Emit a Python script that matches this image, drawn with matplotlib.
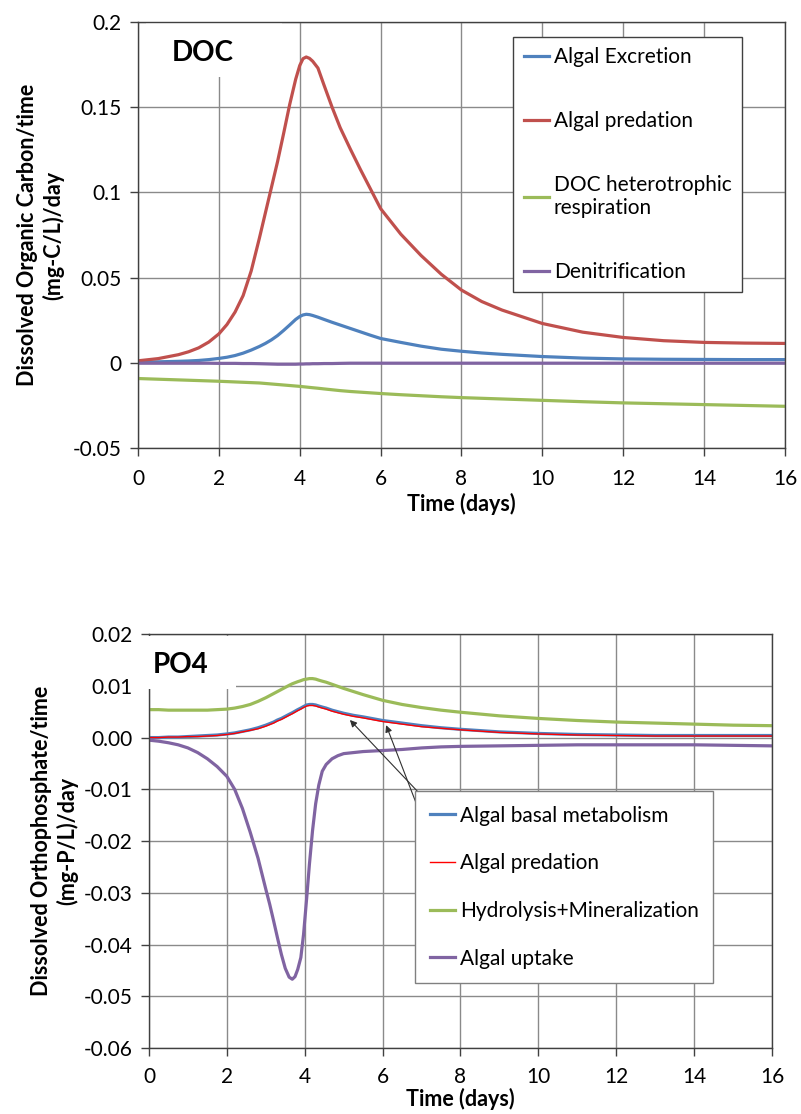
import matplotlib
matplotlib.use('Agg')
import matplotlib.pyplot as plt
from matplotlib.patches import Rectangle
from matplotlib.ticker import MultipleLocator, FuncFormatter

plt.rcParams['font.family'] = ['Lato', 'DejaVu Sans']

# ---- DOC panel data ----
t_doc = [0, 0.5, 1, 1.25, 1.5, 1.75,
         2, 2.2, 2.4, 2.6, 2.8,
         3.0, 3.15, 3.3, 3.45, 3.6, 3.75, 3.9,
         4.0, 4.08, 4.16, 4.24, 4.32, 4.45, 4.6, 4.8,
         5.0, 5.25, 5.5, 5.75,
         6, 6.5, 7, 7.5,
         8, 8.5, 9,
         10, 11, 12, 13, 14, 15, 16]
doc_excretion = [0.0005, 0.0006, 0.0009, 0.0011, 0.0014, 0.0019,
                 0.0026, 0.0033, 0.0043, 0.0057, 0.0075,
                 0.0096, 0.0114, 0.0135, 0.0160, 0.0190, 0.0222, 0.0255,
                 0.0272, 0.0281, 0.0285, 0.0283, 0.0278, 0.0268, 0.0255, 0.0238,
                 0.0222, 0.0202, 0.0182, 0.0162,
                 0.0143, 0.0120, 0.0098, 0.0080,
                 0.0068, 0.0058, 0.0050,
                 0.0037, 0.0028, 0.0023, 0.0021, 0.0020, 0.0019, 0.0019]
doc_predation = [0.0012, 0.0025, 0.0048, 0.0065, 0.0088, 0.0122,
                 0.0170, 0.0225, 0.0298, 0.0395, 0.0540,
                 0.0730, 0.0880, 0.1030, 0.1180, 0.1345, 0.1515, 0.1665,
                 0.1745, 0.1785, 0.1795, 0.1787, 0.1770, 0.1730, 0.1630, 0.1500,
                 0.1380, 0.1255, 0.1135, 0.1020,
                 0.0905, 0.0755, 0.0630, 0.0520,
                 0.0427, 0.0360, 0.0310,
                 0.0231, 0.0180, 0.0149, 0.0130, 0.0120, 0.0116, 0.0114]
doc_respiration = [-0.0092, -0.0096, -0.0100, -0.0102, -0.0104, -0.0106,
                   -0.0108, -0.0110, -0.0112, -0.0114, -0.0116,
                   -0.0118, -0.0121, -0.0124, -0.0127, -0.0130, -0.0133, -0.0136,
                   -0.0138, -0.0140, -0.0142, -0.0144, -0.0146, -0.0149, -0.0153, -0.0158,
                   -0.0163, -0.0168, -0.0172, -0.0176,
                   -0.0180, -0.0187, -0.0193, -0.0199,
                   -0.0204, -0.0208, -0.0212,
                   -0.0220, -0.0228, -0.0235, -0.0240, -0.0245, -0.0250, -0.0255]
doc_denitrification = [-0.0002, -0.0002, -0.0002, -0.0002, -0.0002, -0.0002,
                       -0.0003, -0.0003, -0.0003, -0.0004, -0.0004,
                       -0.0005, -0.0006, -0.0007, -0.0008, -0.0008, -0.0008, -0.0008,
                       -0.0007, -0.0007, -0.0006, -0.0006, -0.0005, -0.0005, -0.0004, -0.0004,
                       -0.0003, -0.0002, -0.0002, -0.0002,
                       -0.0002, -0.0002, -0.0002, -0.0002,
                       -0.0002, -0.0002, -0.0002,
                       -0.0002, -0.0002, -0.0002, -0.0002, -0.0002, -0.0002, -0.0002]

# ---- PO4 panel data ----
t_po4 = [0, 0.25, 0.5, 0.75, 1, 1.25, 1.5, 1.75,
         2, 2.2, 2.4, 2.6, 2.8,
         3.0, 3.1, 3.2, 3.3, 3.4, 3.5, 3.6, 3.68, 3.75, 3.82, 3.9, 3.97,
         4.05, 4.12, 4.2, 4.28, 4.36, 4.45, 4.55, 4.7, 4.85,
         5.0, 5.25, 5.5,
         6, 6.5, 7, 7.5,
         8, 9, 10, 11, 12, 13, 14, 15, 16]
po4_basal = [0.0000, 0.0000, 0.0001, 0.0001, 0.0002, 0.0003, 0.0004, 0.0005,
             0.0007, 0.0009, 0.0012, 0.0015, 0.0019,
             0.0024, 0.0027, 0.0030, 0.0034, 0.0037, 0.0041, 0.0045, 0.0048, 0.0051, 0.0054,
             0.0057, 0.0060,
             0.0063, 0.0064, 0.0064, 0.0063, 0.0061, 0.0059, 0.0057, 0.0053, 0.0050,
             0.0047, 0.0043, 0.0040,
             0.0033, 0.0028, 0.0023, 0.0019,
             0.0016, 0.0011, 0.0008, 0.0006, 0.0005, 0.0004, 0.0004, 0.0004, 0.0004]
po4_predation = [0.0000, 0.0000, 0.0001, 0.0001, 0.0002, 0.0002, 0.0003, 0.0004,
                 0.0006, 0.0008, 0.0011, 0.0014, 0.0017,
                 0.0022, 0.0025, 0.0028, 0.0032, 0.0035, 0.0039, 0.0043, 0.0046, 0.0049,
                 0.0052, 0.0055, 0.0058,
                 0.0061, 0.0062, 0.0062, 0.0061, 0.0059, 0.0057, 0.0055, 0.0051, 0.0048,
                 0.0045, 0.0041, 0.0038,
                 0.0031, 0.0026, 0.0021, 0.0018,
                 0.0015, 0.0010, 0.0007, 0.0005, 0.0004, 0.0003, 0.0003, 0.0003, 0.0003]
po4_hydrolysis = [0.0054, 0.0054, 0.0053, 0.0053, 0.0053, 0.0053, 0.0053, 0.0054,
                  0.0055, 0.0057, 0.0060, 0.0064, 0.0070,
                  0.0077, 0.0081, 0.0085, 0.0089, 0.0093, 0.0097, 0.0101, 0.0104, 0.0106,
                  0.0108, 0.0110, 0.0112,
                  0.0113, 0.0114, 0.0114, 0.0113, 0.0111, 0.0109, 0.0107, 0.0103, 0.0099,
                  0.0095, 0.0089, 0.0083,
                  0.0072, 0.0064, 0.0058, 0.0053,
                  0.0049, 0.0042, 0.0037, 0.0033, 0.0030, 0.0028, 0.0026, 0.0024, 0.0023]
po4_uptake = [-0.0005, -0.0007, -0.0010, -0.0014, -0.0020, -0.0029, -0.0041, -0.0056,
              -0.0075, -0.0100, -0.0137, -0.0183, -0.0233,
              -0.0293, -0.0322, -0.0354, -0.0387, -0.0419, -0.0446, -0.0463, -0.0467,
              -0.0462, -0.0448, -0.0425, -0.0380,
              -0.0310, -0.0245, -0.0180, -0.0128, -0.0092, -0.0065, -0.0052, -0.0041,
              -0.0035,
              -0.0031, -0.0029, -0.0027,
              -0.0025, -0.0023, -0.0020, -0.0018,
              -0.0017, -0.0016, -0.0015, -0.0014, -0.0014, -0.0014, -0.0014, -0.0015,
              -0.0016]

BLUE, RED, GREEN, PURPLE = '#4F81BD', '#C0504D', '#9BBB59', '#8064A2'

fig = plt.figure(figsize=(8.01, 11.14), dpi=100)
ax1 = fig.add_axes([0.1723, 0.5978, 0.8077, 0.3824])
ax2 = fig.add_axes([0.186, 0.0592, 0.7778, 0.3716])


def style(ax, xpad=9, labelpad=3):
    ax.set_xlim(0, 16)
    ax.xaxis.set_major_locator(MultipleLocator(2))
    ax.grid(True, color='#8a8a8a', linewidth=1)
    ax.tick_params(direction='out', length=6, width=1, color='#404040',
                   labelsize=15, top=False, right=False)
    ax.tick_params(axis='x', pad=xpad)
    ax.tick_params(axis='y', pad=6)
    for s in ax.spines.values():
        s.set_color('#404040')
        s.set_linewidth(1)
    ax.set_xlabel('Time (days)', fontsize=15.5, fontweight='bold', labelpad=labelpad)


# top: DOC
ax1.plot(t_doc, doc_excretion, color=BLUE, lw=2.3, label='Algal Excretion')
ax1.plot(t_doc, doc_predation, color=RED, lw=2.3, label='Algal predation')
ax1.plot(t_doc, doc_respiration, color=GREEN, lw=2.3, label='DOC heterotrophic\nrespiration')
ax1.plot(t_doc, doc_denitrification, color=PURPLE, lw=2.3, label='Denitrification')
style(ax1)
ax1.set_ylim(-0.05, 0.2)
ax1.yaxis.set_major_locator(MultipleLocator(0.05))
ax1.yaxis.set_major_formatter(FuncFormatter(lambda v, _: f'{round(v, 2) + 0:g}'))
ax1.set_ylabel('Dissolved Organic Carbon/time\n(mg-C/L)/day', fontsize=15.5,
               fontweight='bold', labelpad=6)
ax1.add_patch(Rectangle((0.012, 0.871), 0.21, 0.127, transform=ax1.transAxes,
                        facecolor='white', edgecolor='none', zorder=1.8))
ax1.text(0.1005, 0.927, 'DOC', transform=ax1.transAxes, fontsize=20, fontweight='bold',
         ha='center', va='center', zorder=3)
leg1 = ax1.legend(loc='upper left', bbox_to_anchor=(0.58, 0.965), borderaxespad=0,
                  fontsize=15, handlelength=1.2, handletextpad=0.25, labelspacing=2.1,
                  borderpad=0.5, fancybox=False, framealpha=1, edgecolor='#404040')
leg1.get_frame().set_linewidth(1)

# bottom: PO4
ax2.plot(t_po4, po4_basal, color=BLUE, lw=2.3, label='Algal basal metabolism')
ax2.plot(t_po4, po4_predation, color='#FF0000', lw=1.0, label='Algal predation')
ax2.plot(t_po4, po4_hydrolysis, color=GREEN, lw=2.3, label='Hydrolysis+Mineralization')
ax2.plot(t_po4, po4_uptake, color=PURPLE, lw=2.3, label='Algal uptake')
style(ax2, xpad=8, labelpad=0)
ax2.set_ylim(-0.06, 0.02)
ax2.yaxis.set_major_locator(MultipleLocator(0.01))
ax2.yaxis.set_major_formatter(FuncFormatter(lambda v, _: f'{round(v, 2) + 0:.2f}'))
ax2.set_ylabel('Dissolved Orthophosphate/time\n(mg-P/L)/day', fontsize=15.5,
               fontweight='bold', labelpad=4)
ax2.add_patch(Rectangle((-0.015, 0.867), 0.155, 0.128, transform=ax2.transAxes,
                        facecolor='white', edgecolor='none', zorder=3, clip_on=False))
ax2.text(0.05, 0.925, 'PO4', transform=ax2.transAxes, fontsize=20, fontweight='bold',
         ha='center', va='center', zorder=4)
leg2 = ax2.legend(loc='upper left', bbox_to_anchor=(0.427, 0.621), borderaxespad=0,
                  fontsize=15, handlelength=1.2, handletextpad=0.25, labelspacing=1.33,
                  borderpad=0.7, fancybox=False, framealpha=1, edgecolor='#808080')
leg2.get_frame().set_linewidth(1)
ax2.annotate('', xy=(5.16, 0.0034), xytext=(7.45, -0.0148),
             arrowprops=dict(arrowstyle='-|>', color='#303030', lw=0.8,
                             mutation_scale=10, shrinkA=0, shrinkB=0))
ax2.annotate('', xy=(6.09, 0.0024), xytext=(7.45, -0.0242),
             arrowprops=dict(arrowstyle='-|>', color='#303030', lw=0.8,
                             mutation_scale=10, shrinkA=0, shrinkB=0))

fig.savefig('out.png', dpi=100, facecolor='white')
